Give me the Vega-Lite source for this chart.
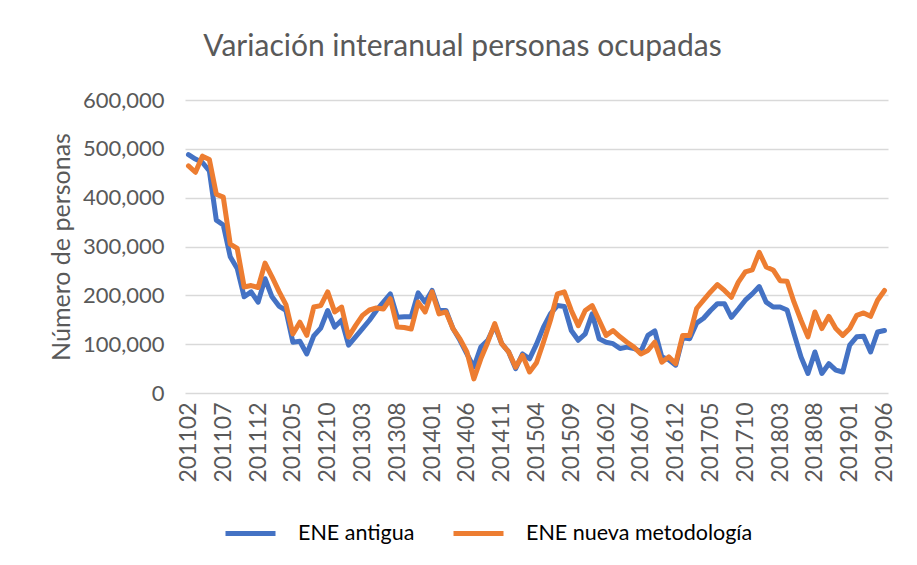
{
"$schema": "https://vega.github.io/schema/vega-lite/v6.json",
"width": 703, "height": 293,
"autosize": {"type": "none"},
"padding": {"left": 185, "top": 100, "right": 29, "bottom": 172},
"background": "white",
"title": {"text": "Variación interanual personas ocupadas", "font": "Lato", "fontSize": 30, "fontWeight": "normal", "color": "#595959", "anchor": "middle", "dx": -74, "offset": 27},
"datasets": {"d": [
{"mes":"201102","serie":"ENE antigua","personas":488000},{"mes":"201103","serie":"ENE antigua","personas":479000},{"mes":"201104","serie":"ENE antigua","personas":472000},{"mes":"201105","serie":"ENE antigua","personas":455000},{"mes":"201106","serie":"ENE antigua","personas":354000},{"mes":"201107","serie":"ENE antigua","personas":344000},{"mes":"201108","serie":"ENE antigua","personas":279000},{"mes":"201109","serie":"ENE antigua","personas":255000},{"mes":"201110","serie":"ENE antigua","personas":197000},{"mes":"201111","serie":"ENE antigua","personas":207000},{"mes":"201112","serie":"ENE antigua","personas":186000},
{"mes":"201201","serie":"ENE antigua","personas":234000},{"mes":"201202","serie":"ENE antigua","personas":197000},{"mes":"201203","serie":"ENE antigua","personas":178000},{"mes":"201204","serie":"ENE antigua","personas":169000},{"mes":"201205","serie":"ENE antigua","personas":104000},{"mes":"201206","serie":"ENE antigua","personas":106000},{"mes":"201207","serie":"ENE antigua","personas":80000},{"mes":"201208","serie":"ENE antigua","personas":117000},{"mes":"201209","serie":"ENE antigua","personas":133000},{"mes":"201210","serie":"ENE antigua","personas":169000},{"mes":"201211","serie":"ENE antigua","personas":135000},{"mes":"201212","serie":"ENE antigua","personas":149000},
{"mes":"201301","serie":"ENE antigua","personas":98000},{"mes":"201302","serie":"ENE antigua","personas":115000},{"mes":"201303","serie":"ENE antigua","personas":132000},{"mes":"201304","serie":"ENE antigua","personas":149000},{"mes":"201305","serie":"ENE antigua","personas":169000},{"mes":"201306","serie":"ENE antigua","personas":186000},{"mes":"201307","serie":"ENE antigua","personas":203000},{"mes":"201308","serie":"ENE antigua","personas":155000},{"mes":"201309","serie":"ENE antigua","personas":156000},{"mes":"201310","serie":"ENE antigua","personas":156000},{"mes":"201311","serie":"ENE antigua","personas":205000},{"mes":"201312","serie":"ENE antigua","personas":186000},
{"mes":"201401","serie":"ENE antigua","personas":210000},{"mes":"201402","serie":"ENE antigua","personas":169000},{"mes":"201403","serie":"ENE antigua","personas":169000},{"mes":"201404","serie":"ENE antigua","personas":132000},{"mes":"201405","serie":"ENE antigua","personas":108000},{"mes":"201406","serie":"ENE antigua","personas":80000},{"mes":"201407","serie":"ENE antigua","personas":53000},{"mes":"201408","serie":"ENE antigua","personas":94000},{"mes":"201409","serie":"ENE antigua","personas":108000},{"mes":"201410","serie":"ENE antigua","personas":138000},{"mes":"201411","serie":"ENE antigua","personas":101000},{"mes":"201412","serie":"ENE antigua","personas":84000},
{"mes":"201501","serie":"ENE antigua","personas":50000},{"mes":"201502","serie":"ENE antigua","personas":80000},{"mes":"201503","serie":"ENE antigua","personas":70000},{"mes":"201504","serie":"ENE antigua","personas":100000},{"mes":"201505","serie":"ENE antigua","personas":135000},{"mes":"201506","serie":"ENE antigua","personas":162000},{"mes":"201507","serie":"ENE antigua","personas":179000},{"mes":"201508","serie":"ENE antigua","personas":177000},{"mes":"201509","serie":"ENE antigua","personas":128000},{"mes":"201510","serie":"ENE antigua","personas":108000},{"mes":"201511","serie":"ENE antigua","personas":121000},{"mes":"201512","serie":"ENE antigua","personas":162000},
{"mes":"201601","serie":"ENE antigua","personas":111000},{"mes":"201602","serie":"ENE antigua","personas":104000},{"mes":"201603","serie":"ENE antigua","personas":101000},{"mes":"201604","serie":"ENE antigua","personas":91000},{"mes":"201605","serie":"ENE antigua","personas":94000},{"mes":"201606","serie":"ENE antigua","personas":91000},{"mes":"201607","serie":"ENE antigua","personas":85000},{"mes":"201608","serie":"ENE antigua","personas":118000},{"mes":"201609","serie":"ENE antigua","personas":127000},{"mes":"201610","serie":"ENE antigua","personas":74000},{"mes":"201611","serie":"ENE antigua","personas":68000},{"mes":"201612","serie":"ENE antigua","personas":57000},
{"mes":"201701","serie":"ENE antigua","personas":113000},{"mes":"201702","serie":"ENE antigua","personas":111000},{"mes":"201703","serie":"ENE antigua","personas":143000},{"mes":"201704","serie":"ENE antigua","personas":153000},{"mes":"201705","serie":"ENE antigua","personas":169000},{"mes":"201706","serie":"ENE antigua","personas":183000},{"mes":"201707","serie":"ENE antigua","personas":183000},{"mes":"201708","serie":"ENE antigua","personas":155000},{"mes":"201709","serie":"ENE antigua","personas":172000},{"mes":"201710","serie":"ENE antigua","personas":190000},{"mes":"201711","serie":"ENE antigua","personas":203000},{"mes":"201712","serie":"ENE antigua","personas":218000},
{"mes":"201801","serie":"ENE antigua","personas":186000},{"mes":"201802","serie":"ENE antigua","personas":176000},{"mes":"201803","serie":"ENE antigua","personas":176000},{"mes":"201804","serie":"ENE antigua","personas":170000},{"mes":"201805","serie":"ENE antigua","personas":121000},{"mes":"201806","serie":"ENE antigua","personas":74000},{"mes":"201807","serie":"ENE antigua","personas":40000},{"mes":"201808","serie":"ENE antigua","personas":84000},{"mes":"201809","serie":"ENE antigua","personas":40000},{"mes":"201810","serie":"ENE antigua","personas":60000},{"mes":"201811","serie":"ENE antigua","personas":47000},{"mes":"201812","serie":"ENE antigua","personas":43000},
{"mes":"201901","serie":"ENE antigua","personas":98000},{"mes":"201902","serie":"ENE antigua","personas":115000},{"mes":"201903","serie":"ENE antigua","personas":116000},{"mes":"201904","serie":"ENE antigua","personas":84000},{"mes":"201905","serie":"ENE antigua","personas":125000},{"mes":"201906","serie":"ENE antigua","personas":128000},
{"mes":"201102","serie":"ENE nueva metodología","personas":465000},{"mes":"201103","serie":"ENE nueva metodología","personas":452000},{"mes":"201104","serie":"ENE nueva metodología","personas":485000},{"mes":"201105","serie":"ENE nueva metodología","personas":478000},{"mes":"201106","serie":"ENE nueva metodología","personas":407000},{"mes":"201107","serie":"ENE nueva metodología","personas":401000},{"mes":"201108","serie":"ENE nueva metodología","personas":305000},{"mes":"201109","serie":"ENE nueva metodología","personas":296000},{"mes":"201110","serie":"ENE nueva metodología","personas":217000},{"mes":"201111","serie":"ENE nueva metodología","personas":220000},{"mes":"201112","serie":"ENE nueva metodología","personas":216000},
{"mes":"201201","serie":"ENE nueva metodología","personas":266000},{"mes":"201202","serie":"ENE nueva metodología","personas":238000},{"mes":"201203","serie":"ENE nueva metodología","personas":208000},{"mes":"201204","serie":"ENE nueva metodología","personas":181000},{"mes":"201205","serie":"ENE nueva metodología","personas":121000},{"mes":"201206","serie":"ENE nueva metodología","personas":145000},{"mes":"201207","serie":"ENE nueva metodología","personas":118000},{"mes":"201208","serie":"ENE nueva metodología","personas":176000},{"mes":"201209","serie":"ENE nueva metodología","personas":179000},{"mes":"201210","serie":"ENE nueva metodología","personas":207000},{"mes":"201211","serie":"ENE nueva metodología","personas":166000},{"mes":"201212","serie":"ENE nueva metodología","personas":176000},
{"mes":"201301","serie":"ENE nueva metodología","personas":115000},{"mes":"201302","serie":"ENE nueva metodología","personas":138000},{"mes":"201303","serie":"ENE nueva metodología","personas":159000},{"mes":"201304","serie":"ENE nueva metodología","personas":170000},{"mes":"201305","serie":"ENE nueva metodología","personas":174000},{"mes":"201306","serie":"ENE nueva metodología","personas":172000},{"mes":"201307","serie":"ENE nueva metodología","personas":193000},{"mes":"201308","serie":"ENE nueva metodología","personas":135000},{"mes":"201309","serie":"ENE nueva metodología","personas":134000},{"mes":"201310","serie":"ENE nueva metodología","personas":131000},{"mes":"201311","serie":"ENE nueva metodología","personas":186000},{"mes":"201312","serie":"ENE nueva metodología","personas":166000},
{"mes":"201401","serie":"ENE nueva metodología","personas":207000},{"mes":"201402","serie":"ENE nueva metodología","personas":162000},{"mes":"201403","serie":"ENE nueva metodología","personas":166000},{"mes":"201404","serie":"ENE nueva metodología","personas":132000},{"mes":"201405","serie":"ENE nueva metodología","personas":111000},{"mes":"201406","serie":"ENE nueva metodología","personas":84000},{"mes":"201407","serie":"ENE nueva metodología","personas":29000},{"mes":"201408","serie":"ENE nueva metodología","personas":70000},{"mes":"201409","serie":"ENE nueva metodología","personas":104000},{"mes":"201410","serie":"ENE nueva metodología","personas":142000},{"mes":"201411","serie":"ENE nueva metodología","personas":101000},{"mes":"201412","serie":"ENE nueva metodología","personas":84000},
{"mes":"201501","serie":"ENE nueva metodología","personas":53000},{"mes":"201502","serie":"ENE nueva metodología","personas":77000},{"mes":"201503","serie":"ENE nueva metodología","personas":43000},{"mes":"201504","serie":"ENE nueva metodología","personas":62000},{"mes":"201505","serie":"ENE nueva metodología","personas":104000},{"mes":"201506","serie":"ENE nueva metodología","personas":149000},{"mes":"201507","serie":"ENE nueva metodología","personas":203000},{"mes":"201508","serie":"ENE nueva metodología","personas":207000},{"mes":"201509","serie":"ENE nueva metodología","personas":169000},{"mes":"201510","serie":"ENE nueva metodología","personas":138000},{"mes":"201511","serie":"ENE nueva metodología","personas":169000},{"mes":"201512","serie":"ENE nueva metodología","personas":179000},
{"mes":"201601","serie":"ENE nueva metodología","personas":149000},{"mes":"201602","serie":"ENE nueva metodología","personas":118000},{"mes":"201603","serie":"ENE nueva metodología","personas":128000},{"mes":"201604","serie":"ENE nueva metodología","personas":115000},{"mes":"201605","serie":"ENE nueva metodología","personas":104000},{"mes":"201606","serie":"ENE nueva metodología","personas":94000},{"mes":"201607","serie":"ENE nueva metodología","personas":80000},{"mes":"201608","serie":"ENE nueva metodología","personas":87000},{"mes":"201609","serie":"ENE nueva metodología","personas":104000},{"mes":"201610","serie":"ENE nueva metodología","personas":63000},{"mes":"201611","serie":"ENE nueva metodología","personas":74000},{"mes":"201612","serie":"ENE nueva metodología","personas":60000},
{"mes":"201701","serie":"ENE nueva metodología","personas":118000},{"mes":"201702","serie":"ENE nueva metodología","personas":118000},{"mes":"201703","serie":"ENE nueva metodología","personas":173000},{"mes":"201704","serie":"ENE nueva metodología","personas":190000},{"mes":"201705","serie":"ENE nueva metodología","personas":207000},{"mes":"201706","serie":"ENE nueva metodología","personas":222000},{"mes":"201707","serie":"ENE nueva metodología","personas":210000},{"mes":"201708","serie":"ENE nueva metodología","personas":196000},{"mes":"201709","serie":"ENE nueva metodología","personas":227000},{"mes":"201710","serie":"ENE nueva metodología","personas":248000},{"mes":"201711","serie":"ENE nueva metodología","personas":252000},{"mes":"201712","serie":"ENE nueva metodología","personas":288000},
{"mes":"201801","serie":"ENE nueva metodología","personas":258000},{"mes":"201802","serie":"ENE nueva metodología","personas":252000},{"mes":"201803","serie":"ENE nueva metodología","personas":230000},{"mes":"201804","serie":"ENE nueva metodología","personas":229000},{"mes":"201805","serie":"ENE nueva metodología","personas":186000},{"mes":"201806","serie":"ENE nueva metodología","personas":149000},{"mes":"201807","serie":"ENE nueva metodología","personas":115000},{"mes":"201808","serie":"ENE nueva metodología","personas":166000},{"mes":"201809","serie":"ENE nueva metodología","personas":132000},{"mes":"201810","serie":"ENE nueva metodología","personas":157000},{"mes":"201811","serie":"ENE nueva metodología","personas":132000},{"mes":"201812","serie":"ENE nueva metodología","personas":118000},
{"mes":"201901","serie":"ENE nueva metodología","personas":132000},{"mes":"201902","serie":"ENE nueva metodología","personas":159000},{"mes":"201903","serie":"ENE nueva metodología","personas":164000},{"mes":"201904","serie":"ENE nueva metodología","personas":157000},{"mes":"201905","serie":"ENE nueva metodología","personas":190000},{"mes":"201906","serie":"ENE nueva metodología","personas":210000}
]},
"data": {"name": "d"},
"mark": {"type": "line", "strokeWidth": 5, "strokeJoin": "round", "strokeCap": "round"},
"encoding": {
  "x": {"field": "mes", "type": "ordinal", "scale": {"type": "point", "padding": 0.5},
    "axis": {"values": ["201102","201107","201112","201205","201210","201303","201308","201401","201406","201411","201504","201509","201602","201607","201612","201705","201710","201803","201808","201901","201906"],
      "labelAngle": -90, "labelFont": "Lato", "labelFontSize": 23, "labelColor": "#595959", "ticks": false, "domain": false, "grid": false, "title": null, "labelPadding": 9}},
  "y": {"field": "personas", "type": "quantitative", "scale": {"domain": [0, 600000]},
    "axis": {"values": [0,100000,200000,300000,400000,500000,600000], "format": ",.0f", "grid": true, "gridColor": "#D9D9D9", "gridWidth": 1.5, "domain": false, "ticks": false,
      "labelFont": "Lato", "labelFontSize": 22, "labelColor": "#595959", "labelPadding": 21,
      "title": "Número de personas", "titleFont": "Lato", "titleFontSize": 25, "titleFontWeight": "normal", "titleColor": "#595959", "titlePadding": 8}},
  "color": {"field": "serie", "type": "nominal",
    "scale": {"domain": ["ENE antigua","ENE nueva metodología"], "range": ["#4472C4","#ED7D31"]},
    "legend": {"orient": "none", "legendX": 38, "legendY": 406, "direction": "horizontal", "title": null,
      "symbolType": "stroke", "symbolStrokeWidth": 5, "symbolSize": 2500,
      "labelFont": "Lato", "labelFontSize": 21.5, "labelColor": "#000000", "labelOffset": 20, "labelLimit": 400, "columnPadding": 28}}
},
"config": {"view": {"stroke": null}}
}
